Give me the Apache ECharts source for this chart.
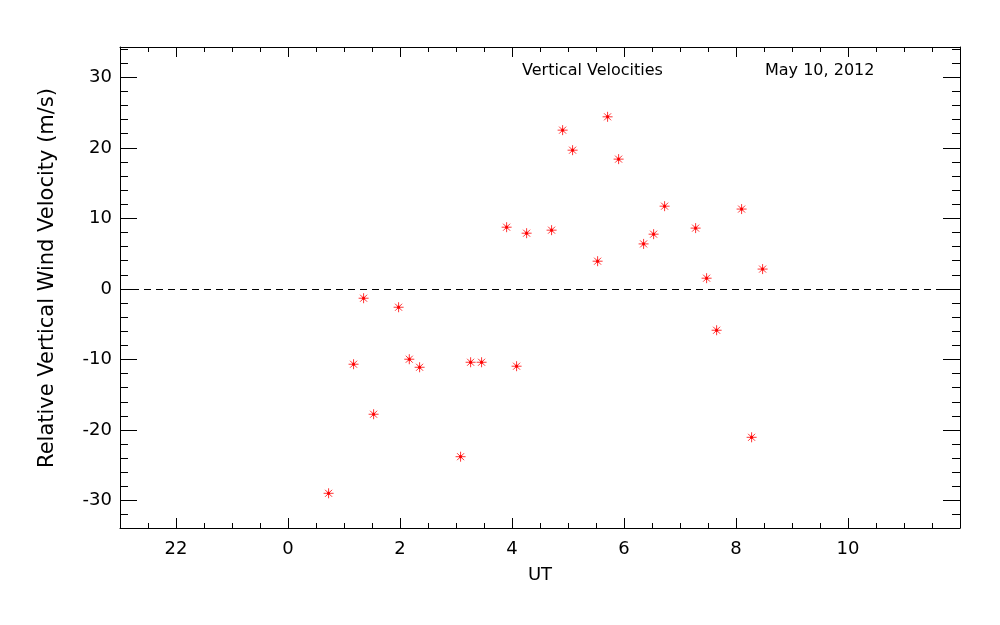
<!DOCTYPE html>
<html>
<head>
<meta charset="utf-8">
<script src="https://cdn.jsdelivr.net/npm/echarts@6/dist/echarts.min.js"></script>
<style>
html,body{margin:0;padding:0;background:#fff;}
#chart{width:1000px;height:625px;}
</style>
</head>
<body>
<div id="chart"></div>
<script>
// Data (UT hours relative to 0 UT, relative vertical wind velocity m/s)
var utHours = [0.725, 1.171, 1.350, 1.529, 1.975, 2.166, 2.350, 3.082, 3.261, 3.457,
               3.904, 4.082, 4.261, 4.707, 4.904, 5.082, 5.529, 5.707, 5.904, 6.350,
               6.529, 6.725, 7.279, 7.475, 7.654, 8.100, 8.279, 8.475];
var velocities = [-28.98, -10.68, -1.32, -17.77, -2.60, -9.97, -11.11, -23.79, -10.40, -10.40,
                  8.75, -10.96, 7.90, 8.33, 22.51, 19.67, 3.93, 24.40, 18.40, 6.38,
                  7.76, 11.73, 8.62, 1.52, -5.86, 11.32, -21.04, 2.81];
var xMajorTicks = [-2, 0, 2, 4, 6, 8, 10];
var yMajorTicks = [-30, -20, -10, 0, 10, 20, 30];
var titleText = 'Vertical Velocities';
var dateText = 'May 10, 2012';
var xName = 'UT';
var yName = 'Relative Vertical Wind Velocity (m/s)';

var X_MIN = -3, X_MAX = 12, Y_MIN = -33.9, Y_MAX = 34.3;
var xMinorTicks = [];
for (var i = X_MIN * 2; i <= X_MAX * 2; i++) xMinorTicks.push(i / 2);
var yMinorTicks = [];
for (var j = -34; j <= 34; j += 2) yMinorTicks.push(j);

var FONT = 'DejaVu Sans';
var points = utHours.map(function (h, k) { return [h, velocities[k]]; });

function xAx(pos, major, showLine, showLabel) {
  return {
    type: 'value', position: pos, min: X_MIN, max: X_MAX, gridIndex: 0,
    axisLine: { show: showLine, onZero: false, lineStyle: { color: '#000', width: 1 } },
    axisTick: { show: true, inside: true, length: major ? 10 : 5,
                customValues: major ? xMajorTicks : xMinorTicks,
                lineStyle: { color: '#000', width: 1 } },
    axisLabel: showLabel ? {
      show: true, customValues: xMajorTicks, margin: 12,
      fontFamily: FONT, fontSize: 18, color: '#000',
      formatter: function (v) { return String((v + 24) % 24); }
    } : { show: false },
    splitLine: { show: false },
    name: showLabel ? xName : '',
    nameLocation: 'middle', nameGap: 38,
    nameTextStyle: { fontFamily: FONT, fontSize: 18, color: '#000' }
  };
}
function yAx(pos, major, showLine, showLabel) {
  return {
    type: 'value', position: pos, min: Y_MIN, max: Y_MAX, gridIndex: 0,
    axisLine: { show: showLine, onZero: false, lineStyle: { color: '#000', width: 1 } },
    axisTick: { show: true, inside: true, length: major ? 17 : 8,
                customValues: major ? yMajorTicks : yMinorTicks,
                lineStyle: { color: '#000', width: 1 } },
    axisLabel: showLabel ? {
      show: true, customValues: yMajorTicks, margin: 8,
      fontFamily: FONT, fontSize: 18, color: '#000'
    } : { show: false },
    splitLine: { show: false }
  };
}

var chart = echarts.init(document.getElementById('chart'), null, { renderer: 'canvas' });
chart.setOption({
  animation: false,
  backgroundColor: '#fff',
  grid: { left: 120, top: 47, width: 840, height: 481, containLabel: false },
  xAxis: [xAx('bottom', true, true, true), xAx('bottom', false, false, false),
          xAx('top', true, true, false), xAx('top', false, false, false)],
  yAxis: [yAx('left', true, true, true), yAx('left', false, false, false),
          yAx('right', true, true, false), yAx('right', false, false, false)],
  graphic: [
    { type: 'text', left: 522, top: 63, style: { text: titleText, font: '16px "' + FONT + '"', fill: '#000' } },
    { type: 'text', left: 765, top: 63, style: { text: dateText, font: '16px "' + FONT + '"', fill: '#000' } },
    { type: 'text', x: 48, y: 278, rotation: Math.PI / 2,
      style: { text: yName, font: '21px "' + FONT + '"', fill: '#000', align: 'center', verticalAlign: 'middle' } }
  ],
  series: [{
    type: 'scatter', xAxisIndex: 0, yAxisIndex: 0,
    data: points,
    symbol: 'path://M0,5L10,5M5,0L5,10M1.5,1.5L8.5,8.5M8.5,1.5L1.5,8.5M4,4L6,4L6,6L4,6Z',
    symbolSize: 10,
    itemStyle: { color: '#ff0000', borderColor: '#ff0000', borderWidth: 1 },
    markLine: {
      silent: true, symbol: 'none', label: { show: false },
      lineStyle: { color: '#000', width: 1, type: [7, 5] },
      data: [{ yAxis: 0 }]
    }
  }]
});
</script>
</body>
</html>
